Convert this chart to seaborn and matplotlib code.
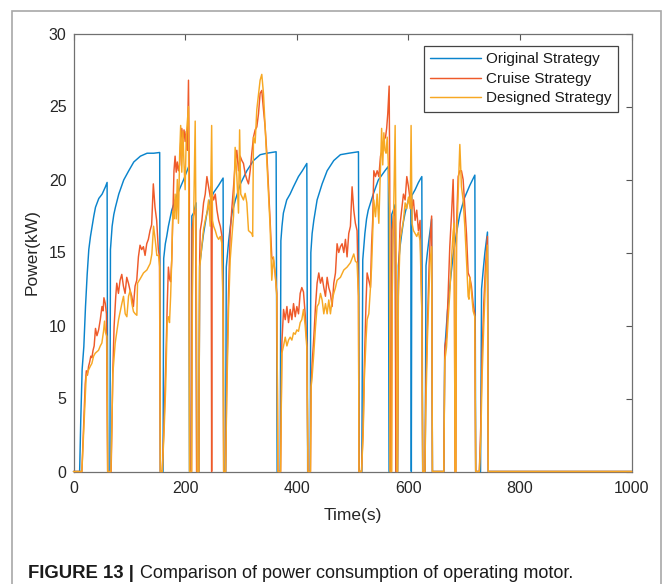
import numpy as np
import pandas as pd
import seaborn as sns
import matplotlib
matplotlib.use("Agg")
import matplotlib.pyplot as plt
from matplotlib.patches import Rectangle

# ---------------- data ----------------
series_names = ["Original Strategy", "Cruise Strategy", "Designed Strategy"]
series_colors = ["#0a84cc", "#ee5a2a", "#f7a823"]

orig_t = [0, 11, 13, 15.5, 18.5, 21.5, 24.5, 27.4, 30.4, 33.4, 36.4, 39.4, 45.3, 51.3, 57.2, 60.2, 61.4,
          65.2, 66.2, 69.2, 72.2, 75.1, 81.1, 90, 99, 108, 119.9, 131.8, 143.7, 154.4, 155.6,
          160.4, 161.6, 164.5, 167, 170, 176, 185, 197, 206.5, 207.8,
          211, 212, 215, 219.5, 220.8, 224.5, 226, 230, 233, 236, 239, 245, 251, 260, 268, 269.2,
          272.5, 273.7, 276, 278, 281, 284, 290, 299, 310.6, 322.5, 334.5, 346.4, 363, 364.8,
          370.3, 371.5, 373.5, 376, 382, 388, 394, 403, 410, 418, 419.5,
          424, 425.2, 427.5, 430.5, 436.4, 445.4, 454.4, 466.3, 478.2, 493.1, 510.5, 512,
          516.5, 518.2, 522, 525, 528, 537, 546, 558, 564, 565.3,
          569, 570, 573, 576.5, 577.8, 580.5, 582, 585, 588, 591, 594, 600, 604.3, 605.2, 606.1,
          612, 618, 624, 625.5, 630, 631.5, 634, 636.5, 641.5, 643,
          663.5, 665, 670, 675, 680, 686, 692, 700, 710, 719, 720.5,
          729.2, 731, 734, 737, 741.6, 743, 1000]
orig_p = [0, 0, 3.5, 7.0, 8.55, 11.3, 13.5, 15.2, 16.1, 16.8, 17.5, 18.1, 18.7, 19.0, 19.5, 19.8, 0,
          0, 15.2, 16.8, 17.6, 18.1, 19.0, 19.97, 20.6, 21.2, 21.6, 21.8, 21.8, 21.85, 0,
          0, 14.6, 15.6, 16.1, 16.8, 17.9, 18.9, 19.96, 20.9, 0,
          0, 17.5, 17.7, 18.4, 0, 0, 14.1, 15.4, 16.3, 17.0, 17.7, 18.6, 19.1, 19.6, 20.1, 0,
          0, 14.0, 15.0, 15.8, 16.8, 17.7, 18.6, 19.7, 20.6, 21.3, 21.7, 21.8, 21.9, 0,
          0, 15.8, 16.8, 17.7, 18.6, 19.0, 19.5, 20.2, 20.6, 21.1, 0,
          0, 15.0, 16.3, 17.2, 18.6, 19.7, 20.6, 21.3, 21.7, 21.8, 21.9, 0,
          0, 14.5, 16.3, 17.3, 17.9, 19.0, 19.96, 20.6, 20.9, 0,
          0, 17.6, 17.9, 18.3, 0, 0, 14.1, 15.4, 16.3, 17.1, 17.7, 18.6, 18.9, 0, 18.9,
          19.3, 19.8, 20.2, 0, 0, 14.1, 15.0, 15.8, 17.3, 0,
          0, 8.3, 11.0, 13.0, 14.8, 16.3, 17.6, 18.7, 19.6, 20.3, 0,
          0, 12.5, 13.8, 15.0, 16.4, 0, 0]

cruise_t = [0, 15, 18, 21, 23, 25, 27, 29, 31, 33, 35, 37, 39.4, 42, 45, 48, 51, 53, 54.5, 57, 59, 61.2,
            67.4, 70.5, 72.7, 75.7, 77.5, 80.5, 83.5, 86.5, 89.4, 92.4, 95.4, 98.4, 101.4, 104.4, 107.3,
            110.3, 113.3, 116.3, 119.2, 122.2, 125.2, 128.2, 131.2, 134.1, 137.1, 140, 143, 146, 149, 152, 154, 155.6,
            159, 162, 165, 168, 170, 172, 174, 176, 178, 180, 182, 184, 186, 188, 190, 192, 194, 196, 198,
            200, 202, 204, 206, 207.5, 208.5,
            211.5, 212.5, 215, 219, 220.5, 224.5, 226, 227, 230, 233, 236, 239, 242, 245, 246.5, 247.5, 248.5,
            251, 254, 257, 260, 263, 266, 268, 269,
            272.5, 274.5, 277.7, 280.7, 283.6, 286.7, 289.6, 292.6, 295.6, 298.6, 301.6, 304.5, 307.5, 310.5,
            313.5, 316.5, 319.4, 322.4, 325.4, 328.4, 331.4, 334.3, 337.3, 340.3, 343.3, 346.3, 349.3, 352.2,
            355.2, 358.2, 361.2, 364.2, 366.2,
            371, 373.3, 376.3, 379.3, 382.3, 385.2, 388.2, 391.2, 394.2, 397.2, 400.1, 403.1, 406.1, 409, 412,
            415, 418, 420,
            424.5, 425.7, 427.5, 430.5, 433.5, 436.4, 439.4, 442.4, 445.4, 448.4, 451.4, 454.4, 457.3, 460.3,
            463.3, 466.3, 469.3, 472.2, 475.2, 478.2, 481.2, 484.2, 487.2, 490.1, 493.1, 496.1, 499.1, 502.1,
            505, 508, 510.5, 511.5,
            516, 518.9, 521, 524, 526, 529, 532, 534, 536, 538, 541, 544, 547, 550, 553, 556, 559, 561, 563,
            565.5, 566.5, 567.5,
            569.5, 570.5, 573, 576, 577.5, 580.5, 582, 585.2, 588.1, 591.1, 594.1, 597.1, 600.1, 603.1, 604.8,
            606, 609, 612, 614.9, 617.9, 620.9, 623.9, 625.7,
            629.6, 631, 634, 637, 639, 641.6, 643,
            663.4, 665.2, 668.2, 671.2, 674.1, 677.1, 680.1, 682, 683.5, 685, 686.1, 689.1, 692.1, 695, 698,
            701, 704, 707, 710, 712.9, 715.9, 718.9, 720.5,
            727, 729.5, 732, 735, 738, 741.6, 743, 1000]
cruise_p = [0, 0, 3.0, 6.0, 6.9, 6.6, 7.2, 7.5, 7.9, 7.8, 8.3, 8.6, 9.8, 9.3, 9.7, 10.4, 11.3, 11.0, 11.9, 11.5, 10.8, 0,
            0, 6.95, 9.9, 12.0, 12.9, 12.2, 13.1, 13.5, 12.7, 12.2, 13.3, 12.9, 12.4, 12.0, 11.3,
            12.7, 13.1, 14.7, 15.5, 15.2, 15.4, 14.8, 15.6, 15.9, 16.5, 16.9, 19.7, 18.1, 17.2, 15.2, 14.7, 0,
            0, 3.0, 7.0, 11.5, 14.0, 13.2, 13.0, 14.5, 17.5, 20.6, 21.6, 20.5, 21.2, 20.6, 21.0, 22.5, 23.5, 22.8, 23.4,
            22.6, 23.3, 22.0, 26.8, 20.0, 0,
            0, 16.5, 17.5, 18.0, 0, 0, 14.5, 16.5, 17.2, 18.4, 19.0, 20.2, 19.5, 18.8, 19.5, 0, 19.0,
            18.6, 19.0, 17.9, 17.2, 16.8, 16.1, 11.0, 0,
            0, 6.0, 12.2, 16.3, 18.0, 19.5, 21.1, 22.0, 20.6, 21.6, 21.3, 21.1, 20.4, 20.0,
            19.7, 20.6, 21.8, 22.9, 23.4, 23.6, 24.5, 25.9, 26.1, 24.8, 23.6, 21.8, 19.5, 17.2,
            14.7, 14.5, 13.6, 12.2, 0,
            0, 8.8, 11.1, 10.4, 11.3, 10.2, 11.1, 10.4, 11.5, 10.6, 11.3, 10.8, 12.2, 12.6, 12.3,
            10.8, 8.8, 0,
            0, 5.8, 7.4, 9.2, 11.3, 12.9, 13.6, 12.9, 13.3, 12.6, 12.0, 13.3, 12.6, 12.2,
            11.3, 12.9, 13.6, 15.6, 15.0, 15.4, 15.6, 15.0, 15.9, 14.7, 16.3, 16.8, 19.5, 17.9,
            17.0, 16.5, 12.0, 0,
            0, 3.0, 7.2, 11.5, 13.6, 13.1, 12.6, 15.5, 17.2, 20.6, 20.2, 20.6, 20.2, 21.6, 22.0, 22.7, 22.9, 23.5, 24.5,
            26.4, 20.0, 0,
            0, 16.5, 17.5, 18.0, 0, 0, 13.0, 17.0, 18.0, 19.0, 18.6, 20.2, 19.5, 18.6, 19.0,
            18.0, 18.6, 17.2, 17.9, 16.5, 17.2, 11.3, 0,
            0, 5.4, 10.0, 14.0, 16.0, 17.5, 0,
            0, 8.55, 9.2, 12.2, 15.4, 17.5, 20.0, 16.5, 0, 0, 16.8, 20.2, 20.6, 20.6, 20.0,
            18.1, 16.3, 13.6, 13.3, 12.7, 11.5, 10.8, 0,
            0, 3.0, 8.0, 11.5, 14.0, 16.1, 0, 0]

designed_t = [0, 15, 18, 22.7, 26.9, 30, 32.9, 36, 38.9, 42, 44.8, 48, 50.8, 53.8, 55.6, 57.4, 59.8, 61.2,
              67, 68.7, 70.5, 74.7, 80.7, 86.6, 89.6, 92.6, 95.6, 98.6, 101.6, 104.5, 107.5, 110.5, 113.5,
              114.7, 119.5, 125.4, 131.4, 137.4, 140.4, 143.4, 146.3, 149.3, 152.3, 154.5, 155.5,
              159, 162, 165, 168, 170, 172, 174, 176, 178, 180, 182, 184, 186, 188, 190, 192, 194, 196, 198,
              200, 202, 204, 206, 207.8,
              211.5, 213, 218, 220, 221.5, 224.5, 226, 227, 230, 233, 236, 239, 242, 245, 247.5, 249,
              251, 254, 257, 260, 263, 266, 268, 269,
              272.5, 274.5, 277.7, 280.7, 283.6, 286.7, 289.6, 292.6, 295.6, 297.6, 299.6, 304.5, 307.5, 310.5,
              313.5, 316.5, 319.4, 321, 322.4, 325.4, 328.4, 334.3, 337.3, 340.3, 343.3, 346.3, 349.3, 352.2,
              355.2, 358.2, 361.2, 364.2, 366.2,
              371, 373.3, 376.3, 379.3, 382.3, 385.2, 388.2, 391.2, 394.2, 397.2, 400.1, 403.1, 406.1, 409, 412,
              415, 418, 420,
              424.5, 425.7, 427.5, 430.5, 433.5, 436.4, 439.4, 442.4, 445.4, 448.4, 451.4, 454.4, 457.3, 460.3,
              463.3, 466.3, 469.3, 472.2, 478.2, 484.2, 490.1, 496.1, 499.1, 502.1, 505, 508, 510.5, 511.5,
              516, 518.9, 521, 524, 526, 529, 532, 534, 536, 538, 541, 544, 547, 550, 552, 554, 556, 558, 560,
              562, 564, 566, 567,
              570, 571, 576.2, 578, 579.5, 580.5, 582, 585.2, 588.1, 591.1, 594.1, 597.1, 600.1, 603.1, 604.8,
              606.5, 609, 612, 614.9, 617.9, 620.9, 623.9, 625.7,
              629.6, 631, 634, 637, 639, 641.6, 643,
              663.4, 665.2, 668.2, 671.2, 674.1, 677.1, 680.1, 682, 683.5, 685, 686.1, 689.1, 692.1, 695, 698,
              701, 704, 707, 708.5, 710, 712.9, 715.9, 718.9, 720.5,
              727, 729.5, 732, 735, 738, 741.6, 743, 1000]
designed_p = [0, 0, 2.5, 6.5, 6.95, 7.2, 7.4, 7.9, 8.1, 8.2, 8.3, 8.6, 8.8, 9.6, 10.3, 9.5, 9.25, 0,
              0, 3.0, 6.7, 8.8, 10.4, 11.5, 12.0, 10.8, 10.6, 12.0, 12.4, 11.5, 10.95, 10.8, 10.7,
              12.9, 13.2, 13.6, 13.8, 14.25, 14.9, 16.8, 15.9, 14.8, 14.8, 14.0, 0,
              0, 2.5, 5.6, 10.4, 10.6, 10.2, 12.0, 14.5, 17.8, 17.3, 19.0, 17.3, 20.0, 17.0, 21.5, 23.7, 20.5, 23.3, 21.0,
              19.3, 23.0, 24.0, 25.0, 0,
              0, 12.0, 24.0, 14.0, 0, 0, 14.0, 14.3, 15.5, 16.6, 17.2, 17.7, 18.6, 16.8, 23.7, 17.2,
              16.8, 16.5, 16.1, 15.9, 16.1, 15.6, 10.5, 0,
              0, 5.0, 11.0, 14.5, 16.0, 17.5, 22.2, 20.2, 17.7, 23.4, 19.0, 18.6, 19.05, 18.4,
              16.5, 16.4, 16.3, 16.1, 22.9, 22.5, 24.8, 26.8, 27.2, 25.9, 23.6, 21.3, 19.0, 16.8,
              13.1, 14.7, 13.6, 12.0, 0,
              0, 8.1, 8.6, 9.2, 8.6, 9.0, 9.2, 9.0, 9.5, 9.4, 9.7, 9.6, 10.2, 10.4, 11.1,
              10.0, 8.5, 0,
              0, 5.8, 6.5, 8.1, 9.9, 11.3, 11.5, 12.2, 11.75, 10.8, 11.5, 10.8, 11.75, 10.8,
              11.75, 12.2, 12.6, 13.1, 13.3, 13.8, 14.0, 14.3, 14.6, 14.9, 14.4, 14.3, 12.0, 0,
              0, 2.5, 6.3, 9.0, 10.4, 10.8, 12.6, 14.0, 16.3, 18.6, 17.45, 19.0, 17.0, 20.9, 23.5, 21.0, 23.2, 22.0, 21.8,
              22.9, 21.0, 18.0, 0,
              0, 12.0, 23.7, 15.0, 0, 0, 12.0, 15.9, 16.5, 17.2, 18.4, 18.0, 18.8, 18.0, 23.7,
              17.0, 16.5, 16.3, 16.1, 16.4, 15.8, 11.1, 0,
              0, 4.0, 9.0, 12.5, 14.5, 15.4, 0,
              0, 7.6, 8.5, 10.5, 12.2, 14.5, 16.4, 17.0, 0, 0, 15.6, 19.05, 22.4, 19.5, 18.6,
              16.8, 14.5, 12.0, 11.8, 13.3, 12.3, 11.0, 10.6, 0,
              0, 2.0, 6.5, 10.0, 13.0, 15.5, 0, 0]

x_ticks = [0, 200, 400, 600, 800, 1000]
y_ticks = [0, 5, 10, 15, 20, 25, 30]

# ---------------- figure ----------------
sns.set_theme(style="white")
plt.rcParams["font.family"] = ["Liberation Sans", "DejaVu Sans"]

W, H = 664, 584
fig = plt.figure(figsize=(W / 100, H / 100), dpi=100)
ax_l, ax_r, ax_t, ax_b = 73.5, 631.7, 33.5, 471.5
ax = fig.add_axes([ax_l / W, 1 - ax_b / H, (ax_r - ax_l) / W, (ax_b - ax_t) / H])

frames = []
for name, tt, pp in zip(series_names, [orig_t, cruise_t, designed_t], [orig_p, cruise_p, designed_p]):
    frames.append(pd.DataFrame({"Time": tt, "Power": pp, "Series": name}))
df = pd.concat(frames, ignore_index=True)

sns.lineplot(data=df, x="Time", y="Power", hue="Series", hue_order=series_names,
             palette=series_colors, estimator=None, sort=False, linewidth=1.05, ax=ax)
for ln in ax.get_lines():
    ln.set_zorder(3)
    ln.set_clip_on(False)

ax.set_xlim(0, 1000)
ax.set_ylim(0, 30)
ax.set_xticks(x_ticks)
ax.set_yticks(y_ticks)
ax.tick_params(direction="in", length=4.3, width=0.8, color="#555555",
               labelsize=11.5, labelcolor="#262626", top=True, right=True)
ax.tick_params(axis="x", pad=6.5)
ax.tick_params(axis="y", pad=5)
for sp in ax.spines.values():
    sp.set_color("#707070")
    sp.set_linewidth(0.9)
    sp.set_visible(True)

ax.set_xlabel("Time(s)", fontsize=12.5, color="#262626")
ax.set_ylabel("Power(kW)", fontsize=12.5, color="#262626")
ax.xaxis.set_label_coords(0.5, (ax_b - 515.7) / (ax_b - ax_t))
ax.xaxis.label.set_va("center")
ax.yaxis.set_label_coords((32 - ax_l) / (ax_r - ax_l), 0.5)
ax.yaxis.label.set_va("center")

handles, labels = ax.get_legend_handles_labels()
leg = ax.legend(handles, labels, loc="upper right",
                bbox_to_anchor=((618 - ax_l) / (ax_r - ax_l), 1 - (46 - ax_t) / (ax_b - ax_t)),
                borderaxespad=0, fontsize=11, frameon=True, fancybox=False, framealpha=1,
                edgecolor="#444444", handlelength=3.3, handletextpad=0.35, labelspacing=0.36,
                borderpad=0.42)
leg.get_frame().set_linewidth(0.9)
for txt in leg.get_texts():
    txt.set_color("#1a1a1a")

# outer gray frame
fig.patches.append(Rectangle((12 / W, -0.05), (660.7 - 12) / W, 1.05 - 11 / H,
                             transform=fig.transFigure, fill=False, edgecolor="#a8a8a8",
                             linewidth=1.2))

# caption
cap_x, cap_base = 27.6, 578.5
t1 = fig.text(cap_x / W, 1 - cap_base / H, "FIGURE 13 |", fontsize=13.3, fontweight="bold",
              color="#1a1a1a", va="baseline", ha="left")
fig.canvas.draw()
bb = t1.get_window_extent(renderer=fig.canvas.get_renderer())
fig.text(bb.x1 / W + 6.5 / W, 1 - cap_base / H, "Comparison of power consumption of operating motor.",
         fontsize=13.0, color="#1a1a1a", va="baseline", ha="left")

fig.savefig("out.png", dpi=100)
